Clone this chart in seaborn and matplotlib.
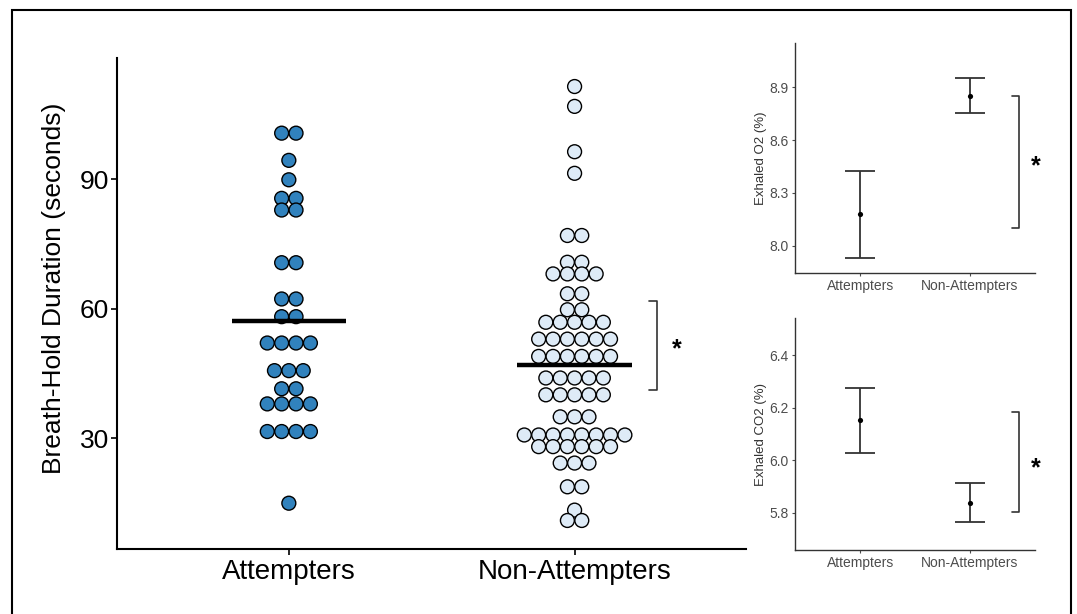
import matplotlib
matplotlib.use("Agg")
import matplotlib.pyplot as plt
import seaborn as sns
import pandas as pd
import numpy as np
from matplotlib.patches import Rectangle

# breath-hold durations (seconds)
attempters = [100.7, 100.7, 94.4, 89.9, 85.6, 85.6, 82.9, 82.9, 70.7, 70.7,
              62.3, 62.3, 58.2, 58.2, 52.1, 52.1, 52.1, 52.1, 45.7, 45.7, 45.7,
              41.5, 41.5, 38.0, 38.0, 38.0, 38.0, 31.6, 31.6, 31.6, 31.6, 15.0]
non_attempters = [111.5, 106.9, 96.4, 91.4, 77.0, 77.0, 70.8, 70.8,
                  68.1, 68.1, 68.1, 68.1, 63.5, 63.5, 59.8, 59.8,
                  56.9, 56.9, 56.9, 56.9, 56.9,
                  53.0, 53.0, 53.0, 53.0, 53.0, 53.0,
                  49.0, 49.0, 49.0, 49.0, 49.0, 49.0,
                  44.0, 44.0, 44.0, 44.0, 44.0,
                  40.1, 40.1, 40.1, 40.1, 40.1,
                  35.0, 35.0, 35.0,
                  30.8, 30.8, 30.8, 30.8, 30.8, 30.8, 30.8, 30.8,
                  28.1, 28.1, 28.1, 28.1, 28.1, 28.1,
                  24.3, 24.3, 24.3, 18.8, 18.8, 13.4, 11.0, 11.0]
groups = ["Attempters", "Non-Attempters"]

# exhaled gas summaries: mean, lower, upper
o2_mean = [8.178, 8.852]
o2_low = [7.932, 8.752]
o2_high = [8.424, 8.955]
co2_mean = [6.151, 5.838]
co2_low = [6.028, 5.763]
co2_high = [6.274, 5.914]

sns.set_theme(style="ticks")
plt.rcParams['font.family'] = ['Liberation Sans', 'DejaVu Sans']

df = pd.concat([
    pd.DataFrame({"group": groups[0], "duration": attempters}),
    pd.DataFrame({"group": groups[1], "duration": non_attempters}),
], ignore_index=True)

# centred stacking like a dot plot
step = 0.0503
df["pos"] = df["group"].map({g: i for i, g in enumerate(groups)}).astype(float)
df["rank"] = df.groupby(["group", "duration"]).cumcount()
df["n"] = df.groupby(["group", "duration"])["duration"].transform("size")
df["x"] = df["pos"] + (df["rank"] - (df["n"] - 1) / 2) * step

fig = plt.figure(figsize=(10.77, 6.14), dpi=100)
fig.patches.append(Rectangle((0.0107, -0.05), 0.9837, 1.0345, transform=fig.transFigure,
                             fill=False, edgecolor="black", linewidth=1.5))

ax = fig.add_axes([0.109, 0.1059, 0.5837, 0.7996])
sns.scatterplot(data=df, x="x", y="duration", hue="group",
                palette={"Attempters": "#3182bd", "Non-Attempters": "#deebf7"},
                s=100, edgecolor="black", linewidth=1.0, legend=False, ax=ax, zorder=3)
means = df.groupby("group")["duration"].mean()
for i, g in enumerate(groups):
    ax.hlines(means[g], i - 0.2, i + 0.2, color="black", linewidth=3.2, zorder=4)

ax.set_xlim(-0.6, 1.6)
ax.set_ylim(4.4, 118.1)
ax.set_xticks([0, 1])
ax.set_xticklabels(groups, fontsize=20)
ax.set_yticks([30, 60, 90])
ax.tick_params(axis="y", labelsize=19, length=4, width=1.2, pad=2, colors="black")
ax.tick_params(axis="x", length=4, width=1.2, pad=3, colors="black")
ax.set_xlabel("")
ax.set_ylabel("Breath-Hold Duration (seconds)", fontsize=19, color="black")
ax.yaxis.set_label_coords(-0.082, 0.53)
for sp in ["left", "bottom"]:
    ax.spines[sp].set_linewidth(1.5)
    ax.spines[sp].set_color("black")
sns.despine(ax=ax)

# significance bracket
ax.plot([1.26, 1.288, 1.288, 1.26], [61.9, 61.9, 41.2, 41.2], color="#333333",
        linewidth=1.2, clip_on=False)
ax.text(1.358, 50.6, "*", fontsize=18, fontweight="bold", ha="center", va="center",
        color="black")


def inset(rect, mean, low, high, label, ylim, ticks, bracket, star_y):
    a = fig.add_axes(rect)
    d = pd.DataFrame({"x": [0, 1], "m": mean, "lo": low, "hi": high})
    a.errorbar(d["x"], d["m"], yerr=[d["m"] - d["lo"], d["hi"] - d["m"]], fmt="none",
               ecolor="#333333", elinewidth=1.3, capsize=11, capthick=1.3)
    sns.scatterplot(data=d, x="x", y="m", color="black", s=14, edgecolor="black",
                    linewidth=0, ax=a, zorder=3)
    a.set_xlim(-0.6, 1.6)
    a.set_ylim(*ylim)
    a.set_xticks([0, 1])
    a.set_xticklabels(groups)
    a.set_yticks(ticks)
    a.set_yticklabels([f"{t:.1f}" for t in ticks])
    a.tick_params(labelsize=10, length=2.5, width=0.8, pad=2, colors="#4d4d4d")
    a.set_xlabel("")
    a.set_ylabel(label, fontsize=9.5, color="#333333")
    a.yaxis.set_label_coords(-0.115, 0.5)
    for sp in ["left", "bottom"]:
        a.spines[sp].set_linewidth(1.0)
        a.spines[sp].set_color("#333333")
    sns.despine(ax=a)
    a.plot([1.389, 1.449, 1.449, 1.389], [bracket[0], bracket[0], bracket[1], bracket[1]],
           color="#333333", linewidth=1.2, clip_on=False)
    a.text(1.61, star_y, "*", fontsize=18, fontweight="bold", ha="center", va="center",
           color="black", clip_on=False)
    return a


inset([0.7382, 0.5559, 0.2228, 0.3741], o2_mean, o2_low, o2_high, "Exhaled O2 (%)",
      (7.847, 9.152), [8.0, 8.3, 8.6, 8.9], (8.852, 8.102), 8.45)
inset([0.7382, 0.1042, 0.2228, 0.3774], co2_mean, co2_low, co2_high, "Exhaled CO2 (%)",
      (5.658, 6.540), [5.8, 6.0, 6.2, 6.4], (6.183, 5.802), 5.97)

fig.savefig("out.png", dpi=100)
